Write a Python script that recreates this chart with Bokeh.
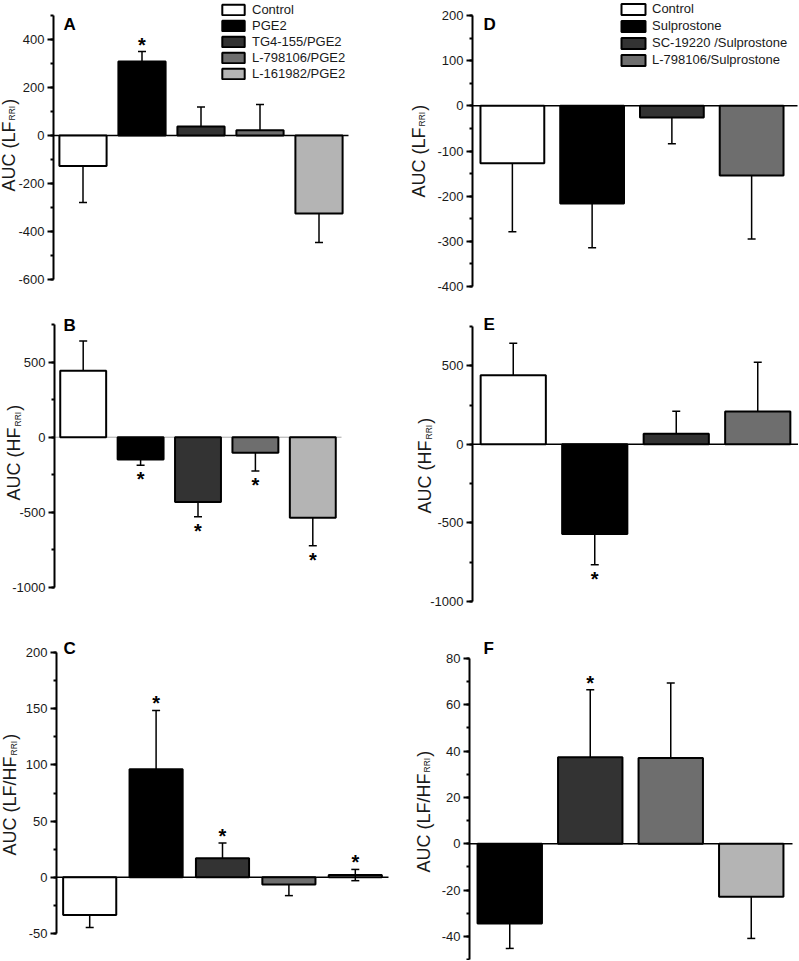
from math import pi
from bokeh.plotting import figure
from bokeh.layouts import column, row
from bokeh.models import (Range1d, SingleIntervalTicker, Label, Legend,
                          LegendItem, ColumnDataSource, PrintfTickFormatter)
from bokeh.core.properties import value
from bokeh.embed import file_html
from bokeh.resources import INLINE

FONT = "Liberation Sans"

# ---------------- data ----------------
pge2_groups = ["Control", "PGE2", "TG4-155/PGE2", "L-798106/PGE2", "L-161982/PGE2"]
sulp_groups = ["Control", "Sulprostone", "SC-19220 /Sulprostone", "L-798106/Sulprostone"]

a_vals = [-127, 308, 37, 22, -325]
a_err = [152, 42, 82, 107, 121]
a_sig = [0, 1, 0, 0, 0]

b_vals = [442, -149, -431, -104, -536]
b_err = [198, 38, 98, 120, 186]
b_sig = [0, 1, 1, 1, 1]

c_vals = [-33.6, 96.2, 16.9, -6.5, 2.0]
c_err = [11.0, 52.3, 13.7, 9.8, 5.0]
c_sig = [0, 1, 1, 0, 1]
c_both = [0, 0, 0, 0, 1]

d_vals = [-127, -216, -26, -154]
d_err = [152, 98, 58, 141]
d_sig = [0, 0, 0, 0]

e_vals = [440, -570, 68, 209]
e_err = [203, 196, 143, 314]
e_sig = [0, 1, 0, 0]

f_vals = [-34.4, 37.4, 37.0, -22.9]
f_err = [10.8, 29.1, 32.4, 18.0]
f_sig = [0, 1, 0, 0]

y_bounds = {"A": (-600, 500), "B": (-1000, 750), "C": (-50, 200),
            "D": (-400, 200), "E": (-1000, 750), "F": (-50, 80)}
y_ticks = {"A": 200, "B": 500, "C": 50, "D": 100, "E": 500, "F": 20}

# ---------------- styles / geometry ----------------
COL5 = ["#ffffff", "#000000", "#333333", "#6e6e6e", "#b4b4b4"]
COL_D = COL5[:4]
COL_F = COL5[1:]

# page-pixel geometry: figure box (fx, fy, w, h), axis box (L, R, T, B), zero-line end Z
GEO = {
    "A": dict(fx=0, fy=0, w=400, h=300, L=53, R=348, T=15, B=279, Z=348),
    "D": dict(fx=400, fy=0, w=398, h=300, L=472, R=791, T=15, B=286, Z=797),
    "B": dict(fx=0, fy=300, w=400, h=310, L=54, R=341, T=324, B=587, Z=341),
    "E": dict(fx=400, fy=300, w=398, h=310, L=472, R=798, T=326, B=601, Z=798),
    "C": dict(fx=0, fy=610, w=400, h=350, L=56, R=388, T=652, B=933, Z=388),
    "F": dict(fx=400, fy=610, w=398, h=350, L=469, R=791, T=658, B=959, Z=792),
}

CW = {'A': 667, 'U': 722, 'C': 722, ' ': 278, '(': 333, ')': 333, 'L': 556,
      'F': 611, 'H': 722, '/': 278, 'R': 722, 'I': 278}


def textw(s, size):
    return sum(CW[c] for c in s) / 1000.0 * size


def make_panel(key, vals, errs, sig, colors, both, ylab, letter_pos, ylab_pos,
               zero_color="black", zero_width=1.5, legend_labels=None, legend_cfg=None):
    g = GEO[key]
    n = len(vals)
    y0b, y1b = y_bounds[key]
    ppx = (g["R"] - g["L"]) / n
    ppy = (g["B"] - g["T"]) / (y1b - y0b)
    xr = (0.5 - (g["L"] - g["fx"]) / ppx, 0.5 + (g["fx"] + g["w"] - g["L"]) / ppx)
    yr = (y0b - (g["fy"] + g["h"] - g["B"]) / ppy, y1b + (g["T"] - g["fy"]) / ppy)

    def dx(px):
        return 0.5 + (px - g["L"]) / ppx

    def dy(py):
        return y1b - (py - g["T"]) / ppy

    p = figure(width=g["w"], height=g["h"], x_range=Range1d(*xr), y_range=Range1d(*yr),
               x_axis_location=None, toolbar_location=None, output_backend="svg",
               min_border=0)
    p.grid.visible = False
    p.outline_line_color = None
    p.background_fill_color = "white"
    p.border_fill_color = "white"

    ax = p.yaxis[0]
    ax.fixed_location = 0.5
    ax.bounds = (y0b, y1b)
    ax.ticker = SingleIntervalTicker(interval=y_ticks[key], num_minor_ticks=2)
    ax.formatter = PrintfTickFormatter(format="%d")
    ax.axis_line_width = 2
    ax.axis_line_color = "black"
    ax.major_tick_line_width = 2
    ax.minor_tick_line_width = 2
    ax.major_tick_line_color = "black"
    ax.minor_tick_line_color = "black"
    ax.major_tick_in = 0
    ax.major_tick_out = 6
    ax.minor_tick_in = 0
    ax.minor_tick_out = 3
    ax.major_label_standoff = 3
    ax.major_label_text_font = FONT
    ax.major_label_text_font_size = "13px"
    ax.major_label_text_color = "#1a1a1a"

    # zero line from the axis to the end of the plotting area
    p.segment(x0=[0.5], y0=[0], x1=[dx(g["Z"])], y1=[0], line_color=zero_color,
              line_width=zero_width)

    xs = list(range(1, n + 1))
    src = ColumnDataSource(dict(x=xs, top=vals, color=colors))
    r = p.vbar(x="x", top="top", bottom=0, width=0.8, fill_color="color",
               line_color="black", line_width=2, source=src)

    x0, y0, y1, cx, cy = [], [], [], [], []
    sx_up, sy_up, sx_dn, sy_dn = [], [], [], []
    for i in range(n):
        v, e = vals[i], errs[i]
        sgn = 1 if v >= 0 else -1
        end = v + sgn * e
        if both[i]:
            lo, hi = v - e, v + e
            x0.append(xs[i]); y0.append(lo); y1.append(hi)
            cx += [xs[i], xs[i]]; cy += [lo, hi]
        else:
            x0.append(xs[i]); y0.append(v); y1.append(end)
            cx.append(xs[i]); cy.append(end)
        if sig[i]:
            if sgn > 0 or both[i]:
                sx_up.append(xs[i]); sy_up.append(v + e)
            else:
                sx_dn.append(xs[i]); sy_dn.append(end)
    p.segment(x0=x0, y0=y0, x1=x0, y1=y1, line_color="black", line_width=1.5)
    p.scatter(x=cx, y=cy, marker="dash", size=8, line_color="black", line_width=1.5)
    if sx_up:
        p.text(x=sx_up, y=sy_up, text=["*"] * len(sx_up), text_font=value(FONT),
               text_font_style="bold", text_font_size="20px", text_align="center",
               text_baseline="alphabetic", y_offset=-7, text_color="black")
    if sx_dn:
        p.text(x=sx_dn, y=sy_dn, text=["*"] * len(sx_dn), text_font=value(FONT),
               text_font_style="bold", text_font_size="20px", text_align="center",
               text_baseline="alphabetic", y_offset=14, text_color="black")

    # panel letter
    lx, ly = letter_pos
    p.add_layout(Label(x=dx(lx), y=dy(ly), text=key, text_font=FONT,
                       text_font_style="bold", text_font_size="17px",
                       text_align="left", text_baseline="alphabetic", text_color="black"))

    # y label with subscript
    bx, by = ylab_pos
    main_size, sub_size = 18, 8.5
    y_cur = by
    pieces = [(ylab, main_size, 0), ("RRI", sub_size, 3.5), (")", main_size, 0)]
    for txt, sz, off in pieces:
        p.add_layout(Label(x=dx(bx + off), y=dy(y_cur), text=txt, angle=pi / 2,
                           text_font=FONT, text_font_size=f"{sz}px",
                           text_align="left", text_baseline="alphabetic",
                           text_color="#1a1a1a"))
        y_cur -= textw(txt, sz) + 1

    if legend_labels:
        lc = legend_cfg
        items = [LegendItem(label=lab, renderers=[r], index=i)
                 for i, lab in enumerate(legend_labels)]
        nrow = len(items)
        height = nrow * lc["rowh"] + (nrow - 1) * lc["sp"]
        vx = lc["left"] - g["fx"]
        vy = (g["fy"] + g["h"]) - (lc["top"] + height)
        leg = Legend(items=items, location=(vx, vy), glyph_width=lc["gw"],
                     glyph_height=lc["gh"], label_height=lc["gh"], spacing=lc["sp"],
                     padding=0, margin=0, border_line_color=None,
                     background_fill_alpha=0, label_text_font=FONT,
                     label_text_font_size="13px", label_standoff=lc["st"],
                     label_text_color="#1a1a1a")
        p.add_layout(leg)
    return p


pA = make_panel("A", a_vals, a_err, a_sig, COL5, [0] * 5, "AUC (LF", (63, 24), (8, 191),
                legend_labels=pge2_groups,
                legend_cfg=dict(left=219, top=2, gw=28, gh=13, rowh=15, sp=1, st=5))
pB = make_panel("B", b_vals, b_err, b_sig, COL5, [0] * 5, "AUC (HF", (63, 325), (13.5, 500),
                zero_color="#a8a8a8", zero_width=1)
pC = make_panel("C", c_vals, c_err, c_sig, COL5, c_both, "AUC (LF/HF", (63, 648), (9.5, 855))
pD = make_panel("D", d_vals, d_err, d_sig, COL_D, [0] * 4, "AUC (LF", (483, 24), (418, 197),
                legend_labels=sulp_groups,
                legend_cfg=dict(left=618, top=1, gw=30, gh=14, rowh=15, sp=2, st=4))
pE = make_panel("E", e_vals, e_err, e_sig, COL_D, [0] * 4, "AUC (HF", (483, 324), (424.5, 513))
pF = make_panel("F", f_vals, f_err, f_sig, COL_F, [0] * 4, "AUC (LF/HF", (483, 648), (423, 872))

layout = column(row(pA, pD), row(pB, pE), row(pC, pF))
open("out.html", "w").write(file_html(layout, INLINE, "AUC"))
